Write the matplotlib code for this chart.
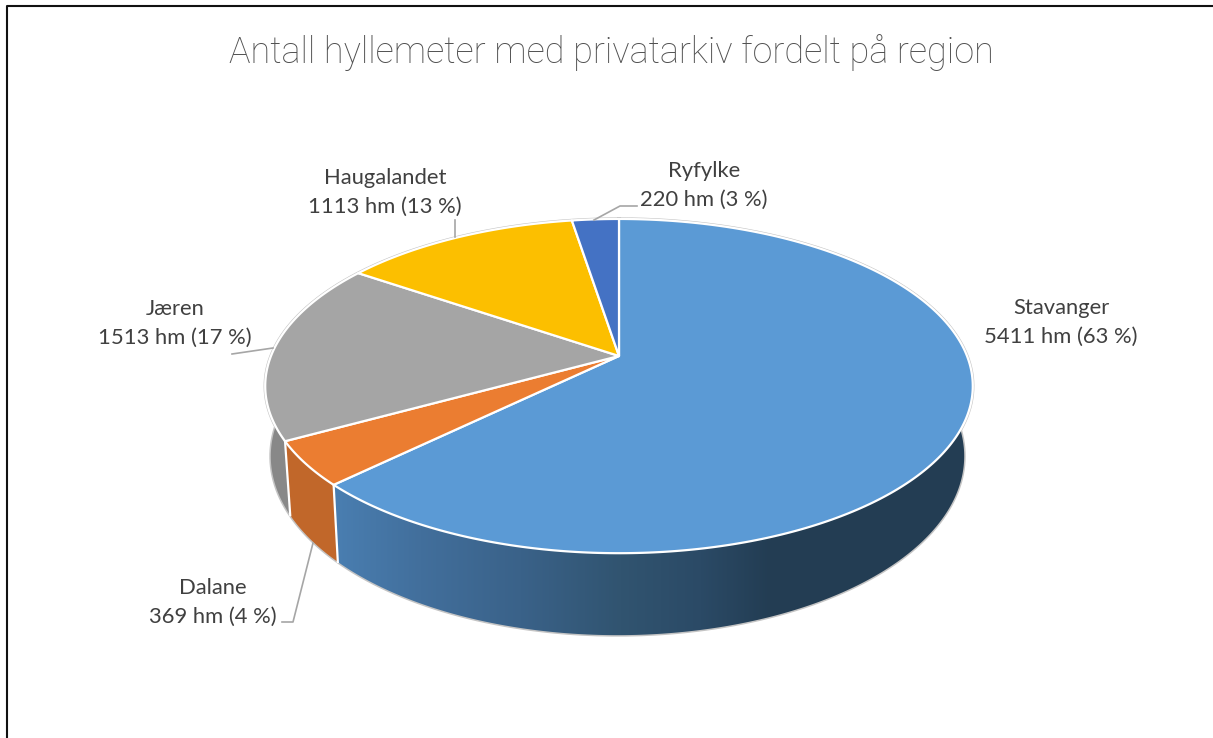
import numpy as np
import matplotlib
matplotlib.use("Agg")
import matplotlib.pyplot as plt
from matplotlib.patches import Polygon

title = "Antall hyllemeter med privatarkiv fordelt på region"
regions = ["Stavanger", "Dalane", "Jæren", "Haugalandet", "Ryfylke"]
hm = [5411, 369, 1513, 1113, 220]
pct = [63, 4, 17, 13, 3]
colors = ["#5b9ad5", "#eb7d31", "#a5a5a5", "#fcbf00", "#4472c4"]
label_xy = [(1061, 322), (213, 602), (175, 323), (385, 192), (704, 185)]

plt.rcParams["font.family"] = ["Lato", "DejaVu Sans"]

# perspective of the pie, in pixels
cx, cy = 619, 356
a, b, k = 348, 161.7, 0.18


def top(deg):
    t = np.radians(deg)
    w = 1 + k * np.cos(t)
    return cx + a * np.sin(t) / w, cy - b * np.cos(t) / w


def bottom(deg):
    x, y = top(deg)
    return cx - 1.5 + 0.98 * (x - cx), 515 + 1.071 * (y - 441)


def wall(t0, t1):
    th = np.linspace(t0, t1, 200)
    xt, yt = top(th)
    xb, yb = bottom(th)
    return np.c_[np.r_[xt, xb[::-1]], np.r_[yt, yb[::-1]]]


fig = plt.figure(figsize=(12.13, 7.38), dpi=100)
ax = fig.add_axes([0, 0, 1, 1])

edges = np.cumsum([0] + hm) / sum(hm) * 360

# outer rim
th = np.linspace(0, 360, 720)
ax.plot(*top(th), color="#c4c4c4", lw=2.4, zorder=1)
th = np.linspace(80, 285, 300)
ax.plot(*bottom(th), color="#c4c4c4", lw=2.2, zorder=1)

# blue wall with its gradient
wall_x = [330, 420, 520, 620, 700, 770, 980]
wall_c = np.array([matplotlib.colors.to_rgb(c) for c in
                   ["#4a7fb2", "#426f9c", "#3a6289", "#315470", "#2b4a66", "#233d53", "#233d53"]])
xg = np.arange(320, 985)
grad = np.stack([np.interp(xg, wall_x, wall_c[:, i]) for i in range(3)], axis=-1)[np.newaxis, :, :]
im = ax.imshow(grad, extent=(320, 985, 640, 380), aspect="auto", zorder=2)
clip = Polygon(wall(80, edges[1]), transform=ax.transData, fc="none", ec="none")
ax.add_patch(clip)
im.set_clip_path(clip)

ax.add_patch(Polygon(wall(edges[1], edges[2]), fc="#c1672a", ec="none", zorder=2))
ax.add_patch(Polygon(wall(edges[2], 288), fc="#888888", ec="none", zorder=2))
for e in edges[1:3]:
    ax.plot([top(e)[0], bottom(e)[0]], [top(e)[1], bottom(e)[1]], color="white", lw=1.6, zorder=3)

# top faces
for i, c in enumerate(colors):
    th = np.linspace(edges[i], edges[i + 1], 300)
    xs, ys = top(th)
    ax.fill(np.r_[cx, xs], np.r_[cy, ys], facecolor=c, edgecolor="white", lw=1.6,
            joinstyle="round", zorder=4)

# leader lines
leaders = [([594, 620, 637], [220, 206, 206]),
           ([455, 455], [237, 220]),
           ([232, 273], [354, 348]),
           ([282, 293, 313], [622, 622, 543])]
for lx, ly in leaders:
    ax.plot(lx, ly, color="#a6a6a6", lw=1.2, zorder=5)

for name, v, p, (x, y) in zip(regions, hm, pct, label_xy):
    ax.text(x, y, f"{name}\n{v} hm ({p} %)", ha="center", va="center", fontsize=15.8,
            color="#404040", linespacing=1.55, zorder=6)

ax.text(611, 53, title, ha="center", va="center", fontsize=25.95, color="#505050",
        family="Roboto", fontweight="light")

# frame, only left and top show
ax.plot([6.5, 6.5, 1213], [738, 6, 6], color="#111111", lw=1.5, zorder=7)

ax.set_xlim(0, 1213)
ax.set_ylim(738, 0)
ax.axis("off")

fig.savefig("out.png", dpi=100)
